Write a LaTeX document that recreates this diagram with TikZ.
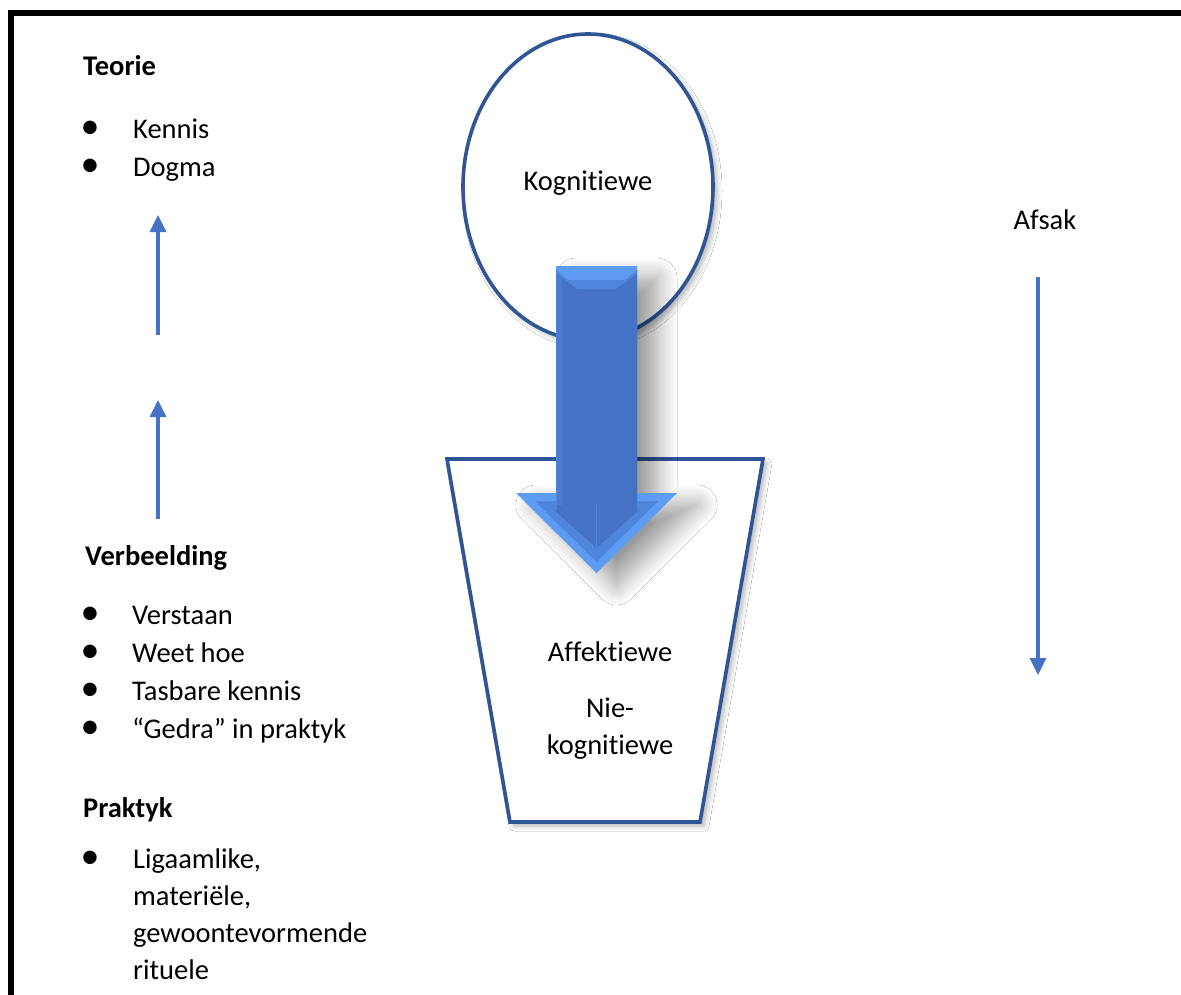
\documentclass[tikz,border=0pt]{standalone}
\usepackage{fontspec}
\setmainfont{Carlito}[Ligatures={NoCommon,NoContextual}]
\usetikzlibrary{arrows.meta,shadows.blur,shapes.geometric}
\definecolor{acc}{HTML}{4472C4}
\definecolor{dk}{HTML}{2F5597}
\definecolor{lt}{HTML}{5E9BF2}
\definecolor{md}{HTML}{4F85DA}
\begin{document}
\begin{tikzpicture}[x=1pt,y=-1pt,
  txt/.style={anchor=base west,inner sep=0pt,font=\fontsize{28.5}{37.5}\selectfont},
  ctxt/.style={anchor=base,inner sep=0pt,font=\fontsize{28.5}{37.5}\selectfont},
  hd/.style={anchor=base west,inner sep=0pt,font=\fontsize{28.5}{37.5}\selectfont\bfseries},
  bul/.style={anchor=base,inner sep=0pt,font=\fontsize{38}{40}\selectfont},
  sarrow/.style={draw=acc,line width=3.3pt,-{Triangle[width=16pt,length=17pt]}},
  outl/.style={draw=dk,line width=3.6pt,fill=white,
    blur shadow={shadow xshift=4pt,shadow yshift=-4pt,shadow blur radius=5pt,shadow blur steps=8,shadow opacity=30}}]
\useasboundingbox (0,0) rectangle (1181,994);
\clip (0,0) rectangle (1181,994);
\fill[white] (0,0) rectangle (1181,994);
\draw[line width=5.5pt] (11,13) rectangle (1210,1020);

% left column
\node[hd] (teorie) at (83,75) {Teorie};
\node[bul] (b1) at (90,138) {•};
\node[txt] (kennis) at (133,138) {Kennis};
\node[bul] (b2) at (90,176) {•};
\node[txt] (dogma) at (133,176) {Dogma};

\coordinate (u1s) at (158,335); \coordinate (u1e) at (158,215);
\coordinate (u2s) at (158,519); \coordinate (u2e) at (158,400);
\draw[sarrow] (u1s) -- (u1e);
\draw[sarrow] (u2s) -- (u2e);

\node[hd] (verb) at (85,565) {Verbeelding};
\node[bul] (b3) at (90,624) {•};
\node[txt] (v1) at (132,624) {Verstaan};
\node[bul] (b4) at (90,662) {•};
\node[txt] (v2) at (132,662) {Weet hoe};
\node[bul] (b5) at (90,700) {•};
\node[txt] (v3) at (132,700) {Tasbare kennis};
\node[bul] (b6) at (90,738) {•};
\node[txt] (v4) at (132,738) {“Gedra” in praktyk};

\node[hd] (prak) at (83,817) {Praktyk};
\node[bul] (b7) at (90,868) {•};
\node[txt] (p1) at (133,868) {Ligaamlike,};
\node[txt] (p2) at (133,905) {materiële,};
\node[txt] (p3) at (133,942) {gewoontevormende};
\node[txt] (p4) at (133,979) {rituele};

% right arrow
\node[ctxt] (afsak) at (1045,229) {Afsak};
\coordinate (ds) at (1038,277); \coordinate (de) at (1038,675);
\draw[sarrow] (ds) -- (de);

% trapezoid
\coordinate (t1) at (447,459); \coordinate (t2) at (763,459);
\coordinate (t3) at (700,822); \coordinate (t4) at (510,822);
\path[outl] (t1) -- (t2) -- (t3) -- (t4) -- cycle;
\node[ctxt] (aff) at (610,661) {Affektiewe};
\node[ctxt] (nie) at (610,717) {Nie-};
\node[ctxt] (nkog) at (610,754) {kognitiewe};

% ellipse
\node[outl,ellipse,minimum width=250pt,minimum height=306pt,inner sep=0pt] (kog) at (588,187) {};
\node[ctxt] (kogt) at (588,190) {Kognitiewe};

% big arrow
\path[fill=lt,blur shadow={shadow xshift=20pt,shadow yshift=-12pt,shadow blur radius=20pt,shadow blur steps=14,shadow opacity=40}]
  (556,266) -- (637,266) -- (637,493) -- (677,493) -- (596.5,573) -- (516,493) -- (556,493) -- cycle;
\fill[md] (556,270) -- (568,280) -- (625,280) -- (637,270) -- (637,501) -- (658,501)
  -- (596.5,562) -- (535,501) -- (556,501) -- cycle;
\fill[acc] (557,274) -- (577,289) -- (616,289) -- (637,274) -- (637,510) -- (639,510)
  -- (596.5,548) -- (554,510) -- (557,510) -- cycle;
\fill[md,opacity=0.6] (556,274) -- (562,279) -- (562,505) -- (556,505) -- cycle;
\draw[line width=0.8pt,md] (596.5,505) -- (596.5,560);
\end{tikzpicture}
\end{document}
